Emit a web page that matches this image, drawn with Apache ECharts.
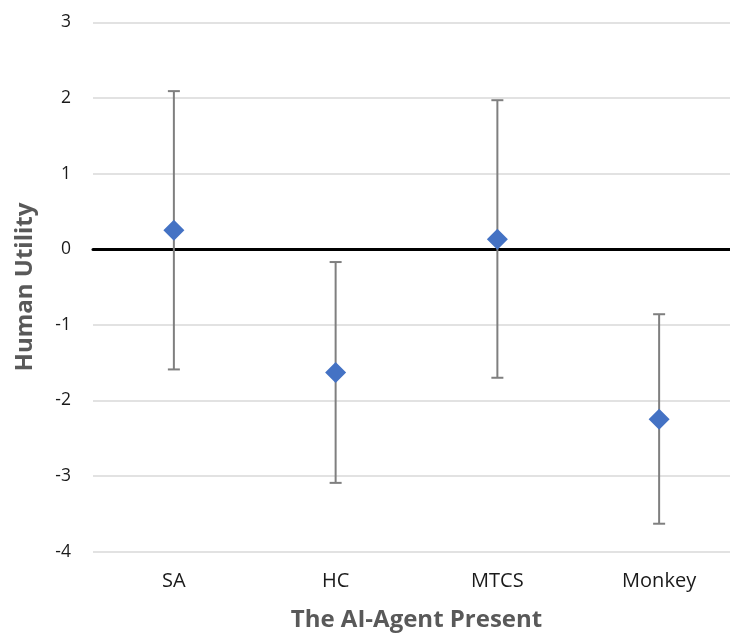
<!DOCTYPE html>
<html><head><meta charset="utf-8">
<script src="https://cdn.jsdelivr.net/npm/echarts@6/dist/echarts.min.js"></script>
<style>html,body{margin:0;padding:0;background:#fff;overflow:hidden}#c{width:730px;height:636px}</style>
</head><body><div id="c"></div>
<script>
const categories = ["SA", "HC", "MTCS", "Monkey"];
const means = [0.25, -1.63, 0.13, -2.25];
const upper = [2.09, -0.17, 1.97, -0.86];
const lower = [-1.59, -3.09, -1.70, -3.63];
const yTicks = [-4, -3, -2, -1, 0, 1, 2, 3];

const chart = echarts.init(document.getElementById('c'));
const errData = categories.map((c, i) => [i, lower[i], upper[i]]);
chart.setOption({
  animation: false,
  grid: {left: 93, top: 22.3, width: 647, height: 529.4, containLabel: false, outerBoundsMode: 'none'},
  xAxis: {
    type: "category", data: categories, boundaryGap: true,
    name: "The AI-Agent Present", nameLocation: "middle", nameGap: 56,
    nameTextStyle: {fontFamily: "Open Sans", fontWeight: "bold", fontSize: 24, color: "#595959"},
    axisLine: {onZero: true, lineStyle: {color: "#000", width: 3}},
    axisTick: {show: false},
    axisLabel: {color: "#1a1a1a", fontFamily: "Open Sans", fontSize: 20, margin: 20}
  },
  yAxis: {
    type: "value", min: yTicks[0], max: yTicks[yTicks.length - 1], interval: 1,
    name: "Human Utility", nameLocation: "middle", nameGap: 56,
    nameTextStyle: {fontFamily: "Open Sans", fontWeight: "bold", fontSize: 24, color: "#595959"},
    axisLine: {show: false}, axisTick: {show: false},
    axisLabel: {color: "#1a1a1a", fontFamily: "Open Sans", fontSize: 17.5, margin: 22},
    splitLine: {lineStyle: {color: "#d9d9d9", width: 1.5}}
  },
  series: [
    {
      type: "custom", data: errData, z: 2,
      renderItem: function (params, api) {
        const x = api.value(0);
        const lo = api.coord([x, api.value(1)]);
        const hi = api.coord([x, api.value(2)]);
        const hw = 6;
        const st = {stroke: "#7f7f7f", lineWidth: 2};
        return {type: "group", children: [
          {type: "line", shape: {x1: lo[0], y1: lo[1], x2: hi[0], y2: hi[1]}, style: st},
          {type: "line", shape: {x1: lo[0] - hw, y1: lo[1], x2: lo[0] + hw, y2: lo[1]}, style: st},
          {type: "line", shape: {x1: hi[0] - hw, y1: hi[1], x2: hi[0] + hw, y2: hi[1]}, style: st}
        ]};
      }
    },
    {
      type: "scatter", data: means, z: 3,
      symbol: "diamond", symbolSize: 21,
      itemStyle: {color: "#4472C4", opacity: 1}
    }
  ]
});
</script></body></html>
